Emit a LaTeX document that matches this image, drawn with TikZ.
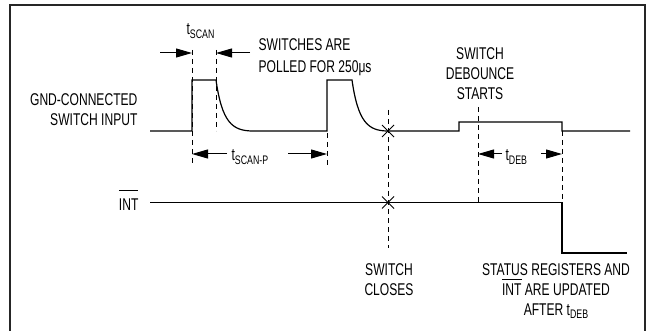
\documentclass[tikz,border=0pt]{standalone}
\usepackage{fontspec}
\setmainfont{Liberation Sans}[FakeStretch=0.71]
\usetikzlibrary{arrows.meta}
\newcommand{\tsub}[1]{t\raisebox{-3.3pt}{\fontsize{12.4}{13}\selectfont #1}}
\newlength{\intw}
\newcommand{\intbar}[1]{\settowidth{\intw}{INT}\rlap{\rule[#1]{\intw}{0.9pt}}INT}
\begin{document}
\begin{tikzpicture}[x=1pt,y=-1pt,line width=1.2pt,
  dim/.style={-{Triangle[length=16pt,width=9pt]},line width=1pt},
  guide/.style={line width=0.8pt,dash pattern=on 5pt off 4pt},
  lbl/.style={font=\fontsize{17}{20}\selectfont,inner sep=0pt}]
  \useasboundingbox (0,0) rectangle (650,331);
  % frame, open at the bottom
  \draw[line width=2pt,black!85] (10,331) -- (10,5) -- (645,5) -- (645,331);
  % switch input
  \draw (150,131) -- (192,131) -- (192,80) -- (216,80)
        .. controls (222,122) and (232,131) .. (253,131) -- (327,131)
        -- (327,80) -- (352,80)
        .. controls (358,122) and (368,131) .. (388,131) -- (459,131)
        -- (459,122) -- (562,122) -- (562,131) -- (630,131);
  % INT output
  \draw (150,202.5) -- (562,202.5) -- (562,253) -- (627,253);
  % crossings where the switch closes
  \draw[line width=1pt] (388,131) +(-6,-6) -- +(6,6) +(-6,6) -- +(6,-6);
  \draw[line width=1pt] (388,202.5) +(-6,-6) -- +(6,6) +(-6,6) -- +(6,-6);
  % dashed guides
  \draw[guide] (192,50) -- (192,166);
  \draw[guide] (216,50) -- (216,131);
  \draw[guide] (327,133) -- (327,166);
  \draw[guide] (388,110) -- (388,248);
  \draw[guide] (478,107) -- (478,202);
  \draw[guide] (562,131) -- (562,202);
  % dimension arrows
  \draw[dim] (160,53) -- (192,53);
  \draw[dim] (250,53) -- (216,53);
  \draw[dim] (227,154) -- (192,154);
  \draw[dim] (288,154) -- (327,154);
  \draw[dim] (502,154) -- (478,154);
  \draw[dim] (541,154) -- (562,154);
  % labels
  \node[lbl,anchor=base west] (tscan) at (186,35) {\tsub{SCAN}};
  \node[lbl,anchor=base west] (tscanp) at (231,161) {\tsub{SCAN-P}};
  \node[lbl,anchor=base west] (tdeb) at (505,161) {\tsub{DEB}};
  \node[lbl,anchor=north west,align=left] (polled) at (258,37.7)
    {SWITCHES ARE\\[2pt]POLLED FOR 250μs};
  \node[lbl,anchor=north east,align=right] (input) at (138,93)
    {GND-CONNECTED\\SWITCH INPUT};
  \node[lbl,anchor=base east] (int) at (139,210) {\intbar{19.5pt}};
  \node[lbl,anchor=north,align=center] (debounce) at (480,46.7)
    {SWITCH\\DEBOUNCE\\STARTS};
  \node[lbl,anchor=north,align=center] (closes) at (389,263)
    {SWITCH\\CLOSES};
  \node[lbl,anchor=north,align=center] (status) at (556,263)
    {STATUS REGISTERS AND\\\intbar{16pt} ARE UPDATED\\AFTER \tsub{DEB}};
\end{tikzpicture}
\end{document}
